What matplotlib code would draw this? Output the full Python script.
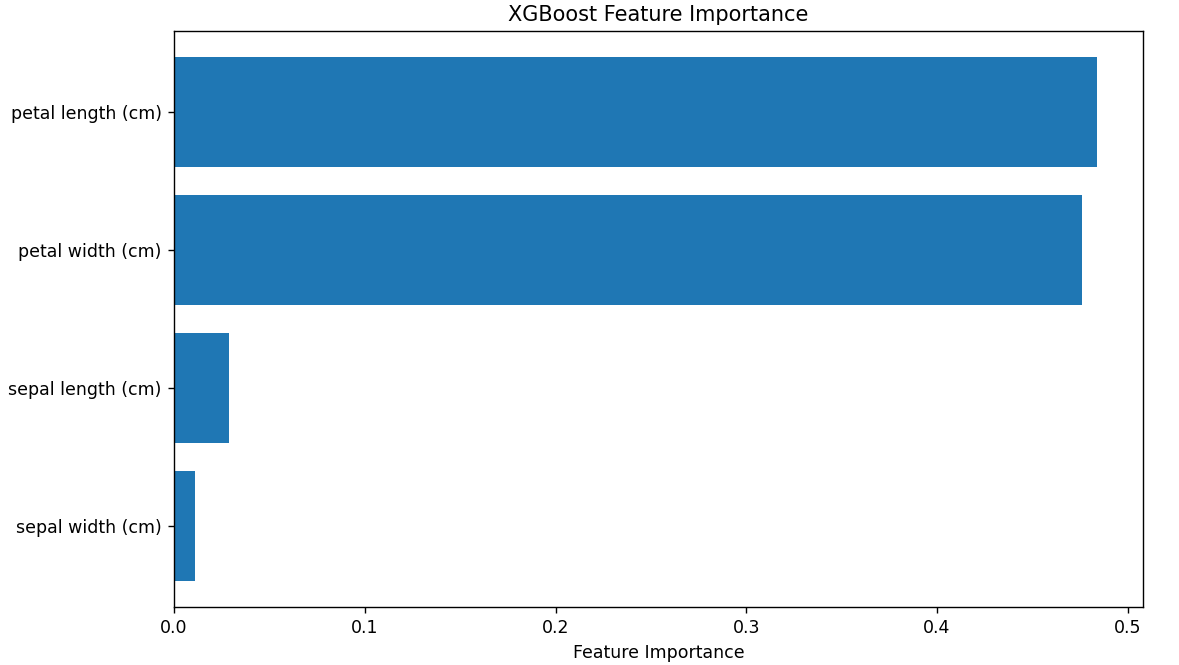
import matplotlib
matplotlib.use("Agg")
import matplotlib.pyplot as plt

features = ["sepal width (cm)", "sepal length (cm)", "petal width (cm)", "petal length (cm)"]
importances = [0.0110, 0.0288, 0.4759, 0.4838]

dpi = 125
fig = plt.figure(figsize=(1179 / dpi, 665 / dpi), dpi=dpi)
ax = fig.add_axes([174 / 1179, 1 - 607 / 665, (1143 - 174) / 1179, (607 - 31) / 665])
ax.barh(features, importances, color="#1f77b4")
ax.set_xlabel("Feature Importance")
ax.set_title("XGBoost Feature Importance")
fig.savefig("out.png", dpi=dpi)
